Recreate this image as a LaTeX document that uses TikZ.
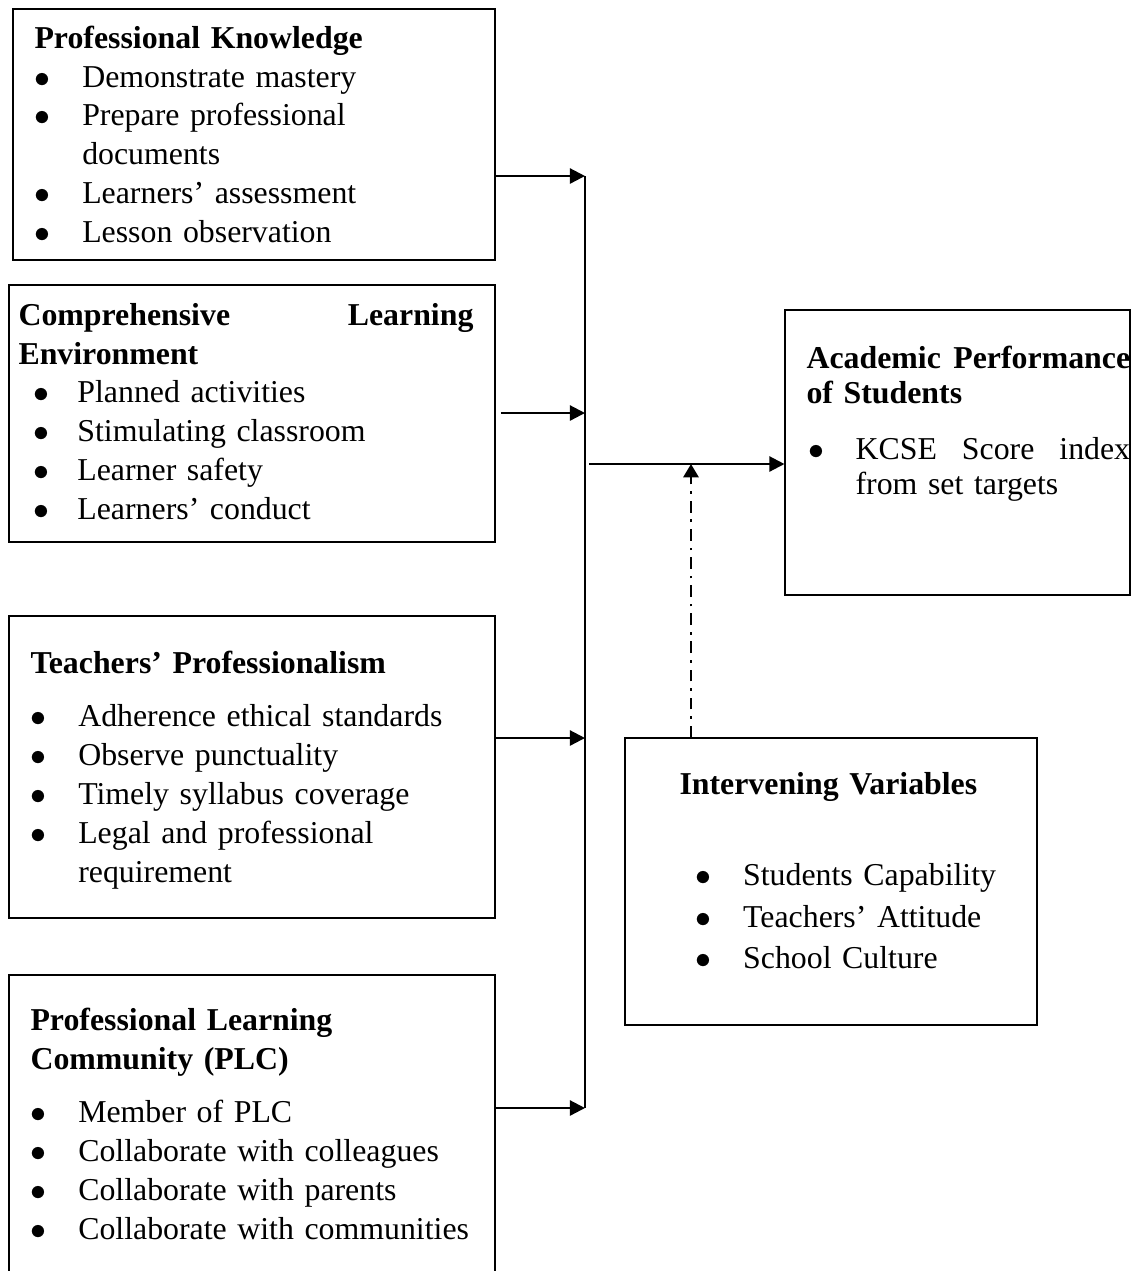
\documentclass[tikz,border=0pt]{standalone}
\usepackage{fontspec}
\setmainfont{Liberation Serif}
\usetikzlibrary{arrows.meta,fit}
\newlength\bulpos
\newlength\bultext
\newcommand{\bitem}[1]{\par\noindent\hangindent=\bultext\hangafter=1\hspace*{\bulpos}\makebox[\dimexpr\bultext-\bulpos\relax][l]{\(\bullet\)}#1\par}

\begin{document}
\begin{tikzpicture}[x=0.377pt,y=-0.377pt,
    box/.style={draw,line width=0.4pt,inner sep=0pt},
    txt/.style={inner sep=0pt,align=left,anchor=base west,font=\fontsize{12pt}{14.7pt}\selectfont},
    lst/.style 2 args={txt,execute at begin node={\setlength\bulpos{#1}\setlength\bultext{#2}}},
    arr/.style={line width=0.85pt,-{Triangle[length=5.7pt,width=5.7pt]}},
    bus/.style={line width=0.85pt},
    mod/.style={line width=0.9pt,dash pattern=on 4.4pt off 2.6pt on 1pt off 2.6pt,-{Triangle[length=5pt,width=5.7pt]}}]
  \useasboundingbox (0,0) rectangle (1136,1271);
  \clip (0,0) rectangle (1136,1271);

  \node[box,fit={(13,9) (495,260)}] (know) {};
  \node[box,fit={(9,285) (495,542)}] (env) {};
  \node[box,fit={(9,616) (495,918)}] (prof) {};
  \node[box,fit={(9,975) (495,1290)}] (plc) {};
  \node[box,fit={(785,310) (1130,595)}] (perf) {};
  \node[box,fit={(625,738) (1037,1025)}] (interv) {};

  \node[lst={0pt}{18pt},text width=171pt] (knowtext) at (34,48)
    {\textbf{Professional Knowledge}\bitem{Demonstrate mastery}\bitem{Prepare professional\newline documents}%
     \bitem{Learners’ assessment}\bitem{Lesson observation}};
  \node[lst={5.7pt}{22.2pt},text width=171.5pt] (envtext) at (18,325)
    {\textbf{Comprehensive\hfill Learning\newline Environment}\bitem{Planned activities}\bitem{Stimulating classroom}%
     \bitem{Learner safety}\bitem{Learners’ conduct}};
  \node[lst={0pt}{18pt},text width=171pt] (proftext) at (30,673)
    {\textbf{Teachers’ Professionalism}\par\vspace{5.5pt}\bitem{Adherence ethical standards}\bitem{Observe punctuality}%
     \bitem{Timely syllabus coverage}\bitem{Legal and professional\newline requirement}};
  \node[lst={0pt}{18pt},text width=171pt] (plctext) at (30,1030)
    {\textbf{Professional Learning\newline Community (PLC)}\par\vspace{5.5pt}\bitem{Member of PLC}%
     \bitem{Collaborate with colleagues}\bitem{Collaborate with parents}\bitem{Collaborate with communities}};
  \node[lst={0.75pt}{18.5pt},text width=122pt,font=\fontsize{12pt}{13.2pt}\selectfont] (perftext) at (806,368)
    {\textbf{Academic\hfill Performance\newline of Students}\par\vspace{8pt}\bitem{KCSE\hfill Score\hfill index\newline from set targets}};
  \node[lst={6pt}{24pt},text width=140pt,font=\fontsize{12pt}{15.6pt}\selectfont] (intervtext) at (679,794)
    {\textbf{Intervening Variables}\par\vspace{19pt}\bitem{Students Capability}\bitem{Teachers’ Attitude}\bitem{School Culture}};

  \coordinate (j1) at (585,176);
  \coordinate (j2) at (585,413);
  \coordinate (j3) at (585,738);
  \coordinate (j4) at (585,1108);
  \coordinate (jout) at (589,464);
  \coordinate (jmod) at (691,464);

  \draw[bus] (j1) -- (j4);
  \draw[arr] (know.east |- j1) -- (j1);
  \draw[arr] (env.east |- j2) ++(2pt,0) -- (j2);
  \draw[arr] (prof.east |- j3) -- (j3);
  \draw[arr] (plc.east |- j4) -- (j4);
  \draw[arr] (jout) -- (perf.west |- jout);
  \draw[mod] (interv.north -| jmod) -- (jmod);
\end{tikzpicture}
\end{document}
